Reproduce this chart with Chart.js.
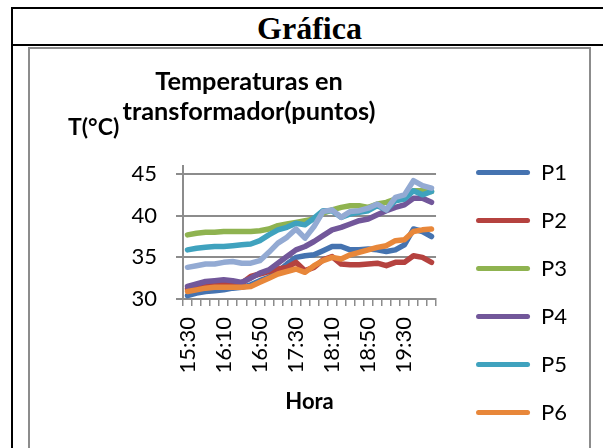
<!DOCTYPE html>
<html lang="es">
<head>
  <meta charset="UTF-8" />
  <title>Gráfica</title>
  <script src="https://cdn.jsdelivr.net/npm/chart.js"></script>
  <style>
    body {
      margin: 0;
      width: 603px;
      height: 448px;
      overflow: hidden;
      position: relative;
      background: #fff;
      font-family: 'Lato', sans-serif;
      color: #000;
    }
    .rule { position: absolute; background: #000; }
    #ruleTop { left: 11px; top: 7px; width: 600px; height: 2px; }
    #ruleLeft { left: 11px; top: 7px; width: 2px; height: 460px; }
    #ruleMid { left: 11px; top: 44px; width: 600px; height: 2px; }
    .header {
      position: absolute;
      left: 13px; top: 11px; width: 593px;
      text-align: center;
      font: bold 32px 'Liberation Serif', 'Times New Roman', serif;
      line-height: 35px;
    }
    .frame {
      position: absolute;
      left: 28px; top: 47px;
      width: 559px; height: 560px;
      border: 2px solid #8c8c8c;
    }
    .chart-box {
      position: absolute;
      left: 30px; top: 49px;
      width: 559px; height: 535px;
    }
    .chart-title {
      position: absolute;
      left: 99px; top: 65.2px; width: 300px;
      text-align: center;
      font-weight: bold; font-size: 25.3px; line-height: 30px;
    }
    .y-title {
      position: absolute;
      left: 68px; top: 111px;
      font-weight: bold; font-size: 23px; line-height: 30px;
    }
  </style>
</head>
<body>
  <div class="rule" id="ruleTop"></div>
  <div class="rule" id="ruleLeft"></div>
  <div class="rule" id="ruleMid"></div>
  <div class="header">Gráfica</div>
  <div class="frame"></div>
  <div class="chart-box"><canvas id="tempChart"></canvas></div>
  <div class="chart-title">Temperaturas en<br>transformador(puntos)</div>
  <div class="y-title">T(°C)</div>

  <script>
    // categories (every 10 minutes)
    const horas = ['15:30', '15:40', '15:50', '16:00', '16:10', '16:20', '16:30', '16:40', '16:50', '17:00',
                   '17:10', '17:20', '17:30', '17:40', '17:50', '18:00', '18:10', '18:20', '18:30', '18:40',
                   '18:50', '19:00', '19:10', '19:20', '19:30', '19:40', '19:50', '20:00'];
    const yTicks = [30, 35, 40, 45];

    const p1 = [30.4, 30.7, 30.9, 31.0, 31.1, 31.3, 31.4, 31.7, 32.2, 32.6, 33.3, 34.2, 35.0, 35.2,
                35.3, 35.8, 36.3, 36.3, 35.9, 35.9, 36.0, 35.9, 35.7, 35.9, 36.5, 38.4, 38.1, 37.5];
    const p2 = [31.2, 31.4, 31.6, 31.7, 31.8, 31.8, 31.9, 32.7, 33.0, 33.3, 33.6, 33.8, 34.4, 33.4,
                33.8, 34.7, 35.1, 34.2, 34.1, 34.1, 34.2, 34.3, 34.0, 34.4, 34.4, 35.2, 35.0, 34.4];
    const p3 = [37.7, 37.9, 38.0, 38.0, 38.1, 38.1, 38.1, 38.1, 38.2, 38.4, 38.8, 39.0, 39.2, 39.4,
                39.6, 40.3, 40.7, 41.0, 41.2, 41.2, 41.0, 41.4, 41.6, 42.0, 42.4, 43.0, 43.0, 42.9];
    const p4 = [31.5, 31.8, 32.1, 32.2, 32.3, 32.2, 32.0, 32.5, 33.1, 33.5, 34.3, 35.1, 35.9, 36.3,
                36.9, 37.6, 38.3, 38.6, 39.0, 39.4, 39.6, 40.1, 40.6, 41.0, 41.3, 42.1, 42.1, 41.6];
    const p5 = [35.9, 36.1, 36.2, 36.3, 36.3, 36.4, 36.5, 36.6, 37.0, 37.7, 38.3, 38.6, 39.1, 38.9,
                39.7, 40.6, 40.6, 39.8, 40.2, 40.4, 40.6, 41.2, 40.7, 41.8, 42.0, 43.0, 42.5, 42.9];
    const p6 = [30.9, 31.1, 31.3, 31.4, 31.4, 31.4, 31.4, 31.5, 32.0, 32.5, 33.0, 33.3, 33.6, 33.2,
                34.0, 34.6, 35.0, 34.8, 35.3, 35.6, 35.9, 36.2, 36.4, 37.0, 37.1, 38.1, 38.3, 38.4];
    const p7 = [33.8, 34.0, 34.2, 34.2, 34.4, 34.5, 34.3, 34.3, 34.6, 35.6, 36.7, 37.4, 38.4, 37.3,
                38.7, 40.5, 40.7, 39.8, 40.5, 40.6, 40.9, 41.4, 40.7, 42.2, 42.5, 44.2, 43.6, 43.3];

    const nombres = ['P1', 'P2', 'P3', 'P4', 'P5', 'P6', 'P7'];
    const valores = [p1, p2, p3, p4, p5, p6, p7];
    const colores = ['#4573B0', '#B5423F', '#8FB350', '#72579A', '#3FA2BE', '#E8873A', '#93AAD3'];

    const gris = '#8c8c8c';
    const tickFont = { family: 'Lato', size: 22 };

    const ctx = document.getElementById('tempChart').getContext('2d');
    new Chart(ctx, {
      type: 'line',
      data: {
        labels: horas,
        datasets: nombres.map((n, i) => ({
          label: n,
          data: valores[i],
          yAxisID: 'y',
          borderColor: colores[i],
          backgroundColor: colores[i],
          borderWidth: 5.5,
          borderCapStyle: 'round',
          borderJoinStyle: 'round',
          pointRadius: 0,
          tension: 0,
          fill: false,
          order: nombres.length - i   // last series on top, like Excel
        }))
      },
      options: {
        responsive: true,
        maintainAspectRatio: false,
        animation: false,
        layout: { padding: { left: 0, right: 12, top: 0, bottom: 0 } },
        plugins: {
          tooltip: { enabled: false },
          // empty title used only to push the plot area down
          title: {
            display: true, text: '', fullSize: false,
            font: { size: 10, lineHeight: 1 },
            padding: { top: 106.7, bottom: 0 }
          },
          legend: {
            position: 'right',
            maxWidth: 200,
            labels: {
              boxWidth: 54,
              boxHeight: 5,
              useBorderRadius: true,
              borderRadius: 2.5,
              padding: 26,
              color: '#000',
              font: tickFont,
              generateLabels: chart => chart.data.datasets.map((ds, i) => ({
                text: ds.label,
                fillStyle: ds.borderColor,
                strokeStyle: ds.borderColor,
                fontColor: '#000',
                lineWidth: 0,
                borderRadius: 2.5,
                hidden: false,
                datasetIndex: i
              }))
            }
          }
        },
        scales: {
          x: {
            offset: true,
            grid: { offset: true, drawOnChartArea: false, drawTicks: true, tickLength: 7, color: gris, lineWidth: 1.5 },
            border: { color: gris, width: 2 },
            ticks: {
              autoSkip: false,
              minRotation: 90,
              maxRotation: 90,
              padding: 11,
              color: '#000',
              font: tickFont,
              callback: function (v, i) { return i % 4 === 0 ? this.getLabelForValue(v) : ''; }
            },
            title: {
              display: true, text: 'Hora', color: '#000',
              font: { family: 'Lato', size: 22, weight: 'bold', lineHeight: 1.2 },
              padding: { top: 0, bottom: 169 }
            },
            afterFit: s => { s.height = 285; }
          },
          y: {
            min: 30,
            max: 46,
            afterBuildTicks: s => { s.ticks = yTicks.map(v => ({ value: v })); },
            grid: { color: gris, lineWidth: 2, tickLength: 7 },
            border: { color: gris, width: 2 },
            ticks: { padding: 19, color: '#000', font: tickFont },
            afterFit: s => { s.width = 153; }
          },
          // blank spacer between plot and legend
          yPad: {
            type: 'linear',
            position: 'right',
            grid: { display: false },
            border: { display: false },
            ticks: { display: false },
            afterFit: s => { s.width = 14; }
          }
        }
      }
    });
  </script>
</body>
</html>
